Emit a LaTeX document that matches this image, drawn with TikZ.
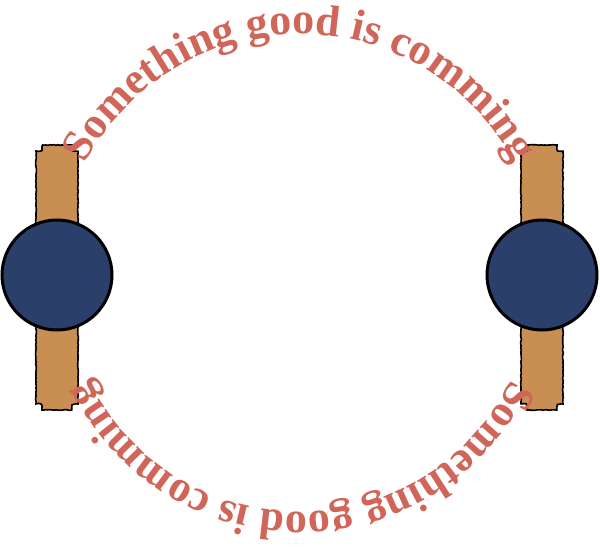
\documentclass[tikz,border=0pt]{standalone}
\usepackage{fontspec}
\setmainfont{Liberation Serif}
\usetikzlibrary{decorations.text,decorations.pathmorphing}
\definecolor{barc}{HTML}{C98E52}
\definecolor{ballc}{HTML}{2B3F6B}
\definecolor{txtc}{HTML}{D0665A}
\tikzset{
  barbox/.style={fill=barc,draw=black,line width=1.6pt,decorate,decoration={random steps,segment length=2pt,amplitude=0.4pt}},
  ball/.style={circle,fill=ballc,draw=black,line width=3pt,minimum size=110pt,inner sep=0pt},
  arctext/.style={decorate,decoration={text along path,text align=center,text color=txtc,
     text={|\fontsize{44}{44}\selectfont\bfseries|Something good is comming}}}
}
\begin{document}
\begin{tikzpicture}[x=1pt,y=1pt]
\useasboundingbox (0,0) rectangle (600,555);
\foreach \cx/\nm in {57/L,542/R}{
  \draw[barbox] (\cx-15,410) -- (\cx+15,410) .. controls (\cx+15,404) .. (\cx+21,404)
     -- (\cx+21,151) .. controls (\cx+15,151) .. (\cx+15,145) -- (\cx-15,145)
     .. controls (\cx-15,151) .. (\cx-21,151) -- (\cx-21,404) .. controls (\cx-15,404) .. (\cx-15,410) -- cycle;
  \node[ball] (ball\nm) at (\cx,280) {};
}
\coordinate (ctr) at (300,278);
\path[arctext] (ctr) ++(170:243) arc[start angle=170,end angle=10,radius=243];
\path[arctext] (ctr) ++(-8:235) arc[start angle=-8,end angle=-172,radius=235];
\end{tikzpicture}
\end{document}
